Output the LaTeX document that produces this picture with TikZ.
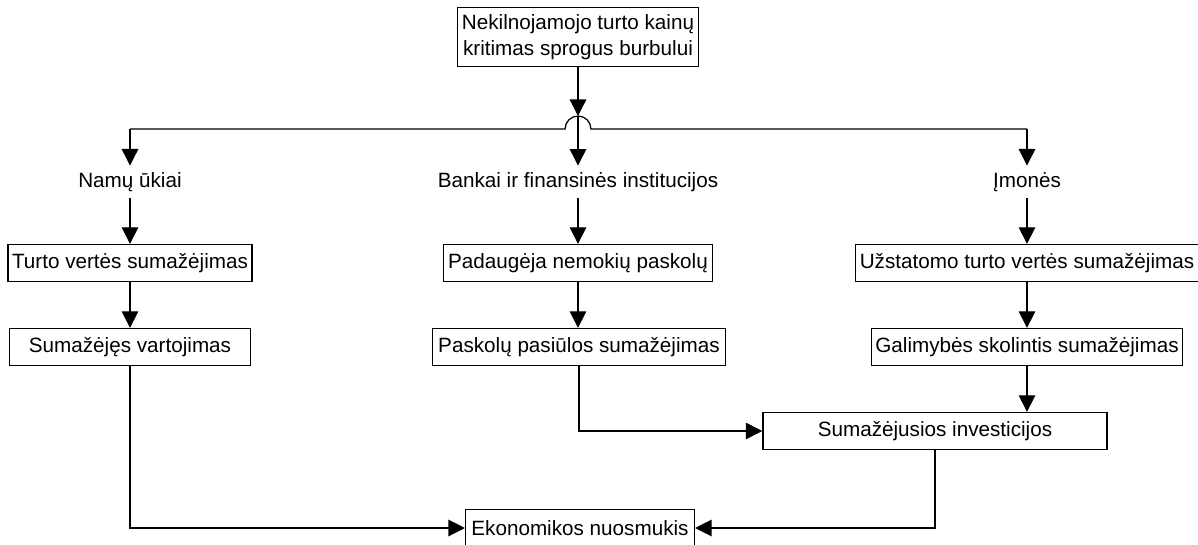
\documentclass[tikz,border=0pt]{standalone}
\usepackage{fontspec}
\setmainfont{Liberation Sans}
\usetikzlibrary{arrows.meta}
\tikzset{
  box/.style = {draw, rectangle, minimum height = 0.63cm, inner xsep = 2pt, align = center},
  lbl/.style = {inner sep = 3pt},
  arr/.style = {-{Triangle[length = 8pt, width = 8pt]}}
}
\begin{document}
\begin{tikzpicture}[x = 0.017cm, y = -0.017cm, line width = 0.6pt, font = \fontsize{10}{12.5}\selectfont]
          \useasboundingbox (0,0) rectangle (1198,545);

          \node[box, minimum width = 4.08cm, minimum height = 0.88cm] at ( 578,  37)  (top) {Nekilnojamojo turto kainų\\kritimas sprogus burbului};

          \coordinate (lc)     at ( 130, 129);
          \coordinate (rc)     at (1027, 129);
          \coordinate (hop)    at ( 578, 129);
          \coordinate (hoptop) at ( 578, 116);

          \node[lbl] at ( 130, 182)  (namu)   {Namų ūkiai};
          \node[lbl] at ( 578, 182)  (bankai) {Bankai ir finansinės institucijos};
          \node[lbl] at (1027, 182)  (imones) {Įmonės};

          \node[box, minimum width = 4.10cm] at ( 130, 263)  (turto)  {Turto vertės sumažėjimas};
          \node[box, minimum width = 4.56cm] at ( 578, 263)  (padaug) {Padaugėja nemokių paskolų};
          \node[box, minimum width = 5.81cm] at (1027, 263)  (uzst)   {Užstatomo turto vertės sumažėjimas};

          \node[box, minimum width = 4.10cm] at ( 130, 347)  (sumaz)  {Sumažėjęs vartojimas};
          \node[box, minimum width = 4.98cm] at ( 579, 347)  (paskol) {Paskolų pasiūlos sumažėjimas};
          \node[box, minimum width = 5.29cm] at (1027, 347)  (galim)  {Galimybės skolintis sumažėjimas};

          \node[box, minimum width = 5.85cm] at ( 935, 431)  (invest) {Sumažėjusios investicijos};
          \node[box, minimum width = 3.89cm] at ( 580, 528)  (ekon)   {Ekonomikos nuosmukis};

          \draw[arr] (top) -- (hoptop);
          \draw (lc) -- ([xshift = -0.22cm]hop) arc[start angle = 180, end angle = 0, radius = 0.22cm] -- (rc);
          \draw[arr] (lc) -- (namu);
          \draw[arr] (hoptop) -- (bankai);
          \draw[arr] (rc) -- (imones);

          \draw[arr] (namu) -- (turto);
          \draw[arr] (bankai) -- (padaug);
          \draw[arr] (imones) -- (uzst);

          \draw[arr] (turto) -- (sumaz);
          \draw[arr] (padaug) -- (padaug |- paskol.north);
          \draw[arr] (uzst) -- (galim);

          \draw[arr] (galim) -- (galim |- invest.north);
          \draw[arr] (paskol) |- (invest);
          \draw[arr] (sumaz) |- (ekon);
          \draw[arr] (invest) |- (ekon);
        \end{tikzpicture}
\end{document}
